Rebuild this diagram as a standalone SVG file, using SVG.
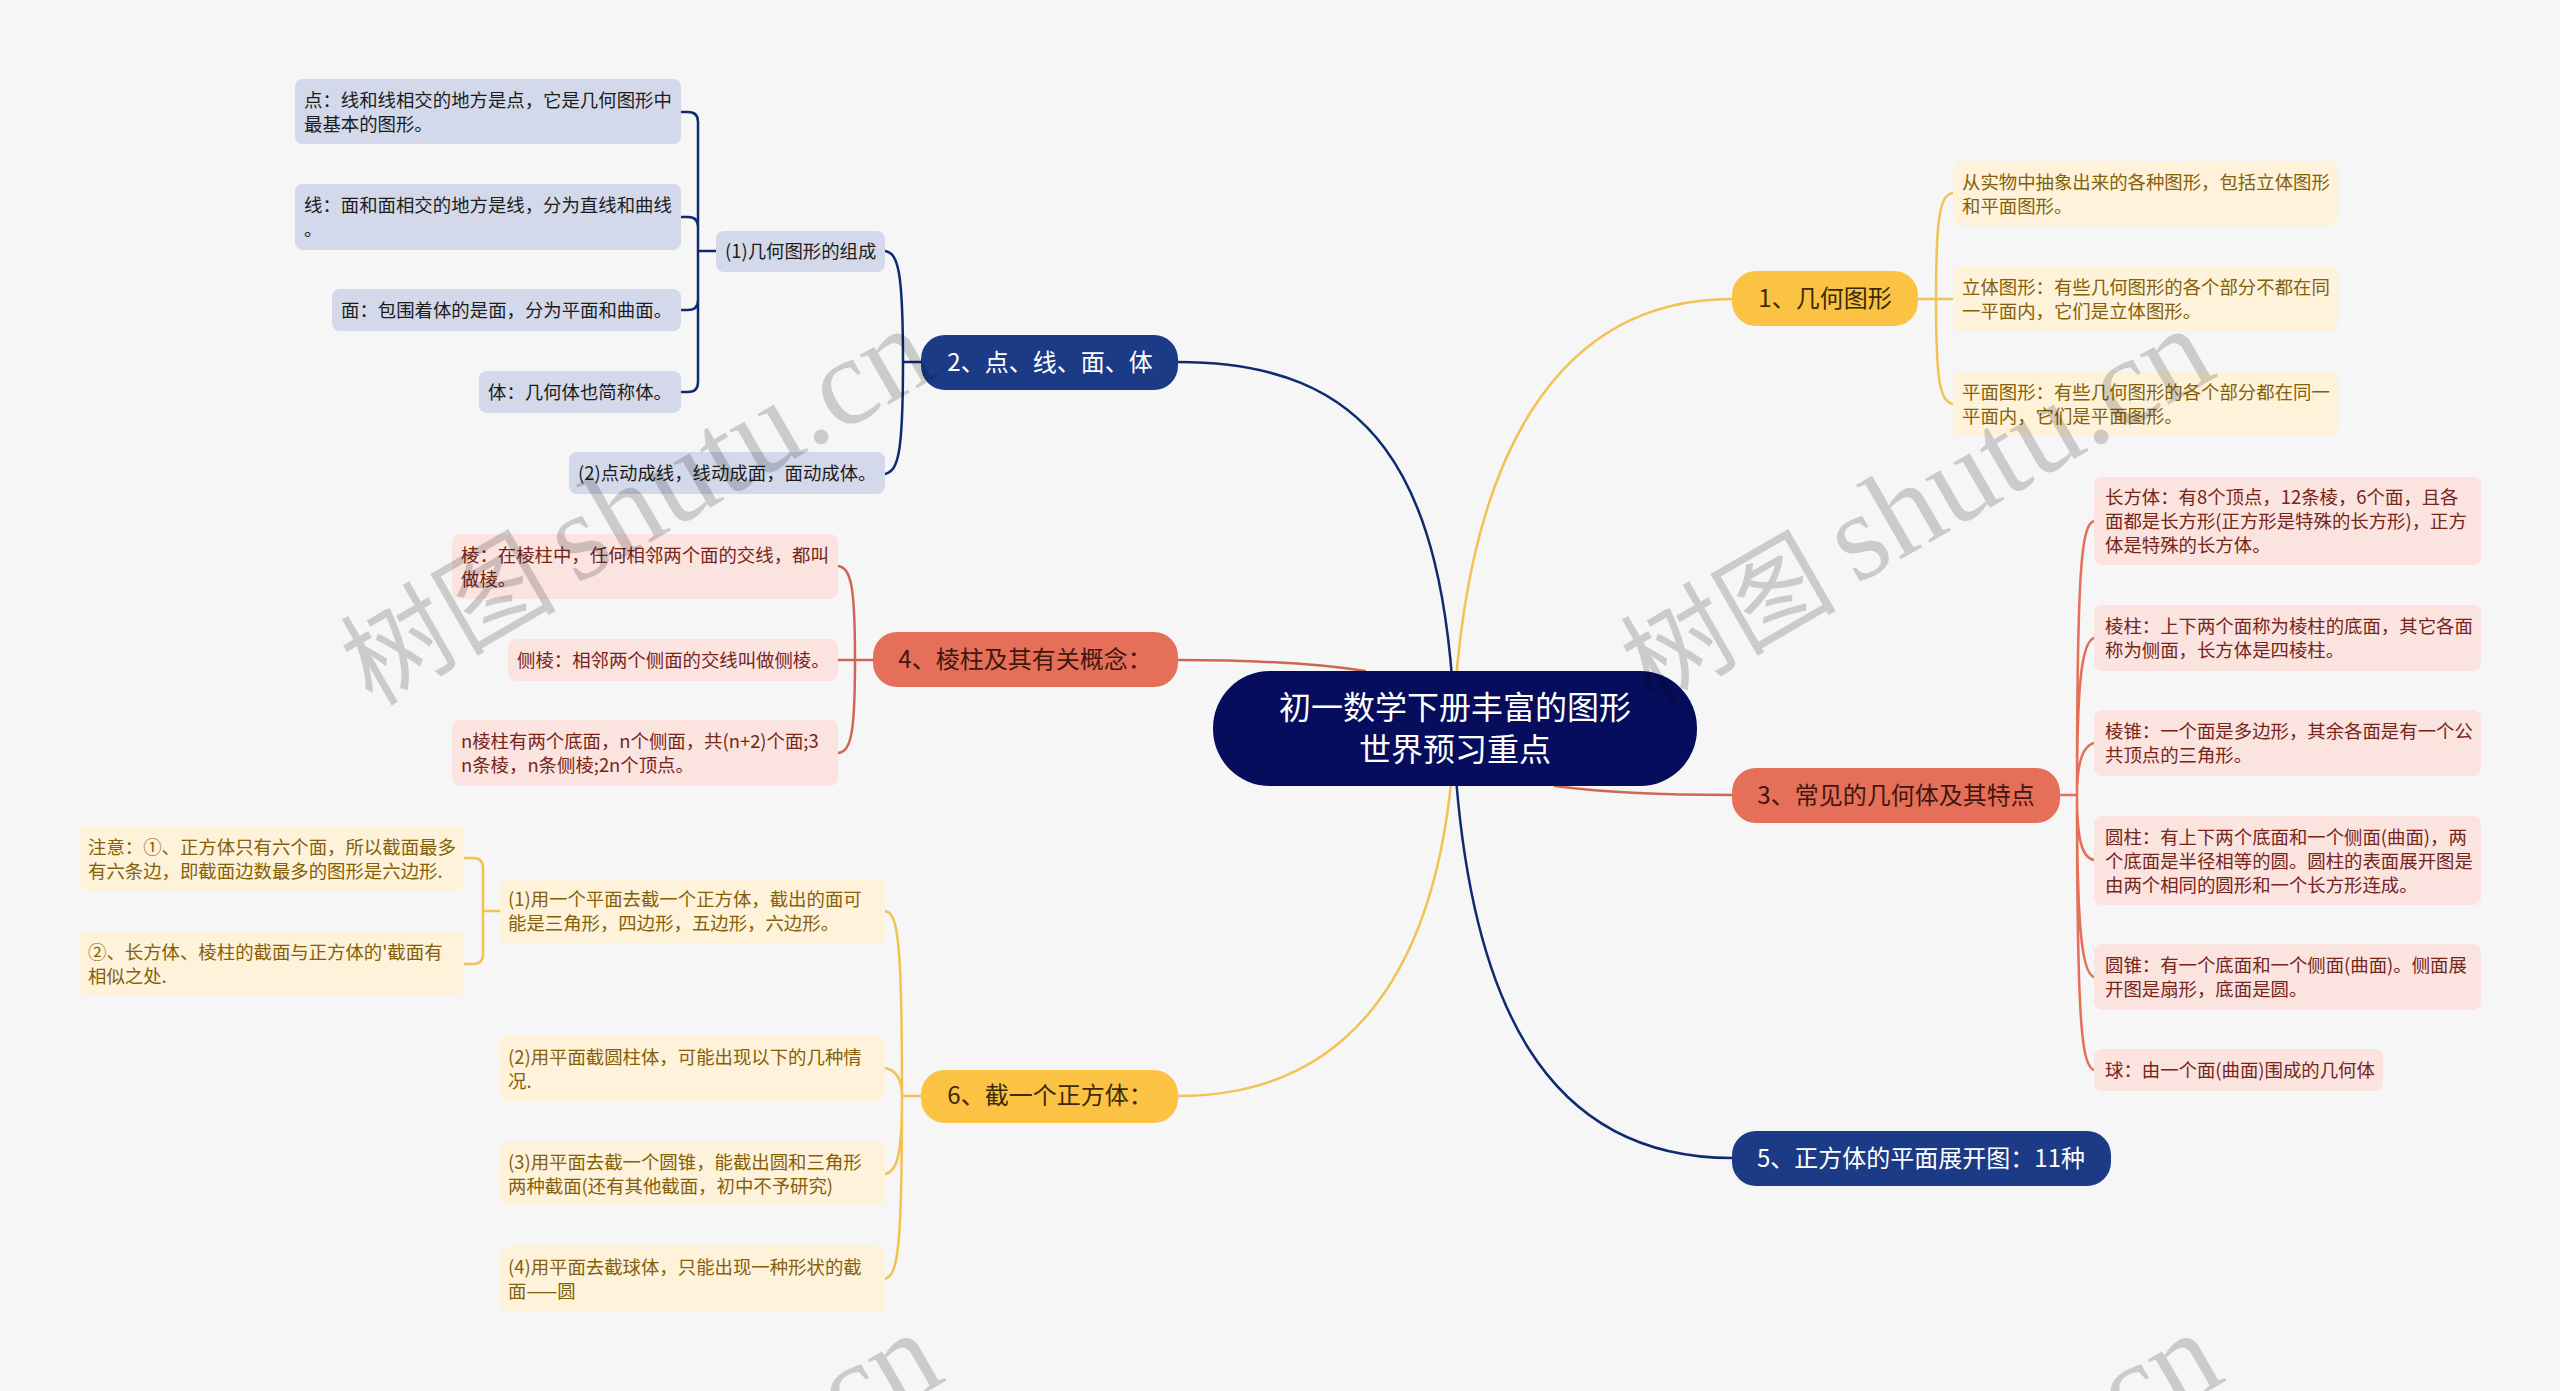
<svg xmlns="http://www.w3.org/2000/svg" width="2560" height="1391" viewBox="0 0 2560 1391">
<style>
text{font-family:"Noto Sans CJK SC","Noto Sans",sans-serif}
.c{fill:none;stroke-width:2.5;stroke-linecap:round}
.navy{stroke:#0f2a6f}.coral{stroke:#cf6654}.yel{stroke:#f2c254}.cor2{stroke:#e56f58}
.l{font-size:18.4px}
.ln{fill:#d3d9ea}.lnt{fill:#1c1c1c}
.lc{fill:#fbe3df}.lct{fill:#76251a}
.ly{fill:#fef3da}.lyt{fill:#856009}
.b{font-size:24px;text-anchor:middle}
.wc{font-size:108px;fill:#000;opacity:.17}
.wl{font-family:"Liberation Serif",serif;font-size:125px;fill:#000;opacity:.17}
</style>
<rect width="2560" height="1391" fill="#f6f6f6"/>
<g id="connectors">
<path class="c navy" d="M1178 362C1370 362 1445 470 1455 728"/>
<path class="c yel" d="M1732 299C1560 299 1465 450 1453 728"/>
<path class="c coral" d="M1178 660C1260 660 1320 664 1365 671"/>
<path class="c coral" d="M1732 795C1660 795 1600 792 1555 786"/>
<path class="c navy" d="M1732 1158C1550 1158 1465 1010 1453 728"/>
<path class="c yel" d="M1178 1096C1350 1096 1445 970 1455 728"/>
<path class="c navy" d="M921 362H903M885 251C898 253 903 270 903 362C903 455 898 471 885 474"/>
<path class="c navy" d="M716 251H698M681 112H688Q698 112 698 122V382Q698 392 688 392H681M681 217H688Q698 217 698 227M681 310H688Q698 310 698 300"/>
<path class="c coral" d="M873 660H855M838 566C851 568 855 585 855 660C855 735 851 751 838 753M838 660H855"/>
<path class="c yel" d="M500 911H483M464 858H473Q483 858 483 868V954Q483 964 473 964H464"/>
<path class="c yel" d="M921 1096H902M885 911C898 913 902 940 902 1096C902 1250 898 1275 885 1279M885 1068C896 1070 902 1078 902 1096M885 1174C896 1172 902 1160 902 1096"/>
<path class="c yel" d="M1918 299H1953M1953 193C1940 195 1936 215 1936 299C1936 383 1940 401 1953 404"/>
<path class="c cor2" d="M2060 795H2077M2094 521C2082 525 2077 560 2077 795C2077 1030 2082 1065 2094 1070M2094 638C2082 642 2077 680 2077 795M2094 743C2082 746 2077 765 2077 795M2094 860C2082 858 2077 840 2077 795M2094 977C2082 973 2077 930 2077 795"/>
</g>
<g id="root"><rect x="1213" y="671" width="484" height="115" rx="57" fill="#050d5c"/>
<text x="1455" y="719" text-anchor="middle" font-size="32" fill="#fff">初一数学下册丰富的图形</text>
<text x="1455" y="761" text-anchor="middle" font-size="32" fill="#fff">世界预习重点</text></g>
<g id="b1"><rect x="1732" y="271" width="186" height="55" rx="24" fill="#fcc244"/><text class="b" x="1825" y="307" fill="#3a2c08">1、几何图形</text></g>
<g id="b2"><rect x="921" y="335" width="257" height="55" rx="24" fill="#1c3b87"/><text class="b" x="1050" y="371" fill="#fff">2、点、线、面、体</text></g>
<g id="b3"><rect x="1732" y="768" width="328" height="55" rx="24" fill="#e56f58"/><text class="b" x="1896" y="804" fill="#3f1710">3、常见的几何体及其特点</text></g>
<g id="b4"><rect x="873" y="632" width="305" height="55" rx="24" fill="#e56f58"/><text class="b" x="1025" y="668" fill="#3f1710">4、棱柱及其有关概念&#65306;</text></g>
<g id="b5"><rect x="1732" y="1131" width="379" height="55" rx="24" fill="#1c3b87"/><text class="b" x="1921" y="1167" fill="#fff">5、正方体的平面展开图&#65306;11种</text></g>
<g id="b6"><rect x="921" y="1070" width="257" height="53" rx="24" fill="#fcc244"/><text class="b" x="1050" y="1104" fill="#3a2c08">6、截一个正方体&#65306;</text></g>

<g id="n21"><rect class="ln" x="295" y="79" width="386" height="65" rx="8"/><text class="l lnt" x="304" y="107">点&#65306;线和线相交的地方是点&#65292;它是几何图形中</text><text class="l lnt" x="304" y="131">最基本的图形。</text></g>
<g id="n22"><rect class="ln" x="295" y="184" width="386" height="66" rx="8"/><text class="l lnt" x="304" y="212">线&#65306;面和面相交的地方是线&#65292;分为直线和曲线</text><text class="l lnt" x="304" y="236">。</text></g>
<g id="n23"><rect class="ln" x="332" y="289" width="349" height="42" rx="8"/><text class="l lnt" x="341" y="317">面&#65306;包围着体的是面&#65292;分为平面和曲面。</text></g>
<g id="n24"><rect class="ln" x="479" y="371" width="202" height="42" rx="8"/><text class="l lnt" x="488" y="399">体&#65306;几何体也简称体。</text></g>
<g id="n25"><rect class="ln" x="716" y="231" width="169" height="41" rx="8"/><text class="l lnt" x="725" y="258">(1)几何图形的组成</text></g>
<g id="n26"><rect class="ln" x="569" y="452" width="316" height="42" rx="8"/><text class="l lnt" x="578" y="480">(2)点动成线&#65292;线动成面&#65292;面动成体。</text></g>

<g id="n41"><rect class="lc" x="452" y="534" width="386" height="65" rx="8"/><text class="l lct" x="461" y="562">棱&#65306;在棱柱中&#65292;任何相邻两个面的交线&#65292;都叫</text><text class="l lct" x="461" y="586">做棱。</text></g>
<g id="n42"><rect class="lc" x="508" y="639" width="330" height="42" rx="8"/><text class="l lct" x="517" y="667">侧棱&#65306;相邻两个侧面的交线叫做侧棱。</text></g>
<g id="n43"><rect class="lc" x="452" y="720" width="386" height="66" rx="8"/><text class="l lct" x="461" y="748">n棱柱有两个底面&#65292;n个侧面&#65292;共(n+2)个面;3</text><text class="l lct" x="461" y="772">n条棱&#65292;n条侧棱;2n个顶点。</text></g>

<g id="n61"><rect class="ly" x="80" y="826" width="384" height="65" rx="8"/><text class="l lyt" x="88" y="854">注意&#65306;①、正方体只有六个面&#65292;所以截面最多</text><text class="l lyt" x="88" y="878">有六条边&#65292;即截面边数最多的图形是六边形.</text></g>
<g id="n62"><rect class="ly" x="80" y="931" width="384" height="65" rx="8"/><text class="l lyt" x="88" y="959">②、长方体、棱柱的截面与正方体的'截面有</text><text class="l lyt" x="88" y="983">相似之处.</text></g>
<g id="n63"><rect class="ly" x="500" y="879" width="385" height="65" rx="8"/><text class="l lyt" x="508" y="906">(1)用一个平面去截一个正方体&#65292;截出的面可</text><text class="l lyt" x="508" y="930">能是三角形&#65292;四边形&#65292;五边形&#65292;六边形。</text></g>
<g id="n64"><rect class="ly" x="500" y="1035" width="385" height="66" rx="8"/><text class="l lyt" x="508" y="1064">(2)用平面截圆柱体&#65292;可能出现以下的几种情</text><text class="l lyt" x="508" y="1088">况.</text></g>
<g id="n65"><rect class="ly" x="500" y="1141" width="385" height="65" rx="8"/><text class="l lyt" x="508" y="1169">(3)用平面去截一个圆锥&#65292;能截出圆和三角形</text><text class="l lyt" x="508" y="1193">两种截面(还有其他截面&#65292;初中不予研究)</text></g>
<g id="n66"><rect class="ly" x="500" y="1246" width="385" height="66" rx="8"/><text class="l lyt" x="508" y="1274">(4)用平面去截球体&#65292;只能出现一种形状的截</text><text class="l lyt" x="508" y="1298">面——圆</text></g>

<g id="n11"><rect class="ly" x="1953" y="161" width="385" height="65" rx="8"/><text class="l lyt" x="1962" y="189">从实物中抽象出来的各种图形&#65292;包括立体图形</text><text class="l lyt" x="1962" y="213">和平面图形。</text></g>
<g id="n12"><rect class="ly" x="1953" y="266" width="385" height="66" rx="8"/><text class="l lyt" x="1962" y="294">立体图形&#65306;有些几何图形的各个部分不都在同</text><text class="l lyt" x="1962" y="318">一平面内&#65292;它们是立体图形。</text></g>
<g id="n13"><rect class="ly" x="1953" y="371" width="385" height="65" rx="8"/><text class="l lyt" x="1962" y="399">平面图形&#65306;有些几何图形的各个部分都在同一</text><text class="l lyt" x="1962" y="423">平面内&#65292;它们是平面图形。</text></g>

<g id="n31"><rect class="lc" x="2094" y="477" width="387" height="88" rx="8"/><text class="l lct" x="2105" y="504">长方体&#65306;有8个顶点&#65292;12条棱&#65292;6个面&#65292;且各</text><text class="l lct" x="2105" y="528">面都是长方形(正方形是特殊的长方形)&#65292;正方</text><text class="l lct" x="2105" y="552">体是特殊的长方体。</text></g>
<g id="n32"><rect class="lc" x="2094" y="605" width="387" height="66" rx="8"/><text class="l lct" x="2105" y="633">棱柱&#65306;上下两个面称为棱柱的底面&#65292;其它各面</text><text class="l lct" x="2105" y="657">称为侧面&#65292;长方体是四棱柱。</text></g>
<g id="n33"><rect class="lc" x="2094" y="710" width="387" height="66" rx="8"/><text class="l lct" x="2105" y="738">棱锥&#65306;一个面是多边形&#65292;其余各面是有一个公</text><text class="l lct" x="2105" y="762">共顶点的三角形。</text></g>
<g id="n34"><rect class="lc" x="2094" y="816" width="387" height="89" rx="8"/><text class="l lct" x="2105" y="844">圆柱&#65306;有上下两个底面和一个侧面(曲面)&#65292;两</text><text class="l lct" x="2105" y="868">个底面是半径相等的圆。圆柱的表面展开图是</text><text class="l lct" x="2105" y="892">由两个相同的圆形和一个长方形连成。</text></g>
<g id="n35"><rect class="lc" x="2094" y="944" width="387" height="66" rx="8"/><text class="l lct" x="2105" y="972">圆锥&#65306;有一个底面和一个侧面(曲面)。侧面展</text><text class="l lct" x="2105" y="996">开图是扇形&#65292;底面是圆。</text></g>
<g id="n36"><rect class="lc" x="2094" y="1049" width="289" height="42" rx="8"/><text class="l lct" x="2105" y="1077">球&#65306;由一个面(曲面)围成的几何体</text></g>

<g id="watermark">
<text class="wc" transform="translate(372 707) rotate(-30)">树图</text>
<text class="wl" transform="translate(576 585) rotate(-30)">shutu.cn</text>
<text class="wc" transform="translate(1652 707) rotate(-30)">树图</text>
<text class="wl" transform="translate(1856 585) rotate(-30)">shutu.cn</text>
<text class="wl" transform="translate(819 1454) rotate(-30)">.cn</text>
<text class="wl" transform="translate(2099 1454) rotate(-30)">.cn</text>
</g>
</svg>
